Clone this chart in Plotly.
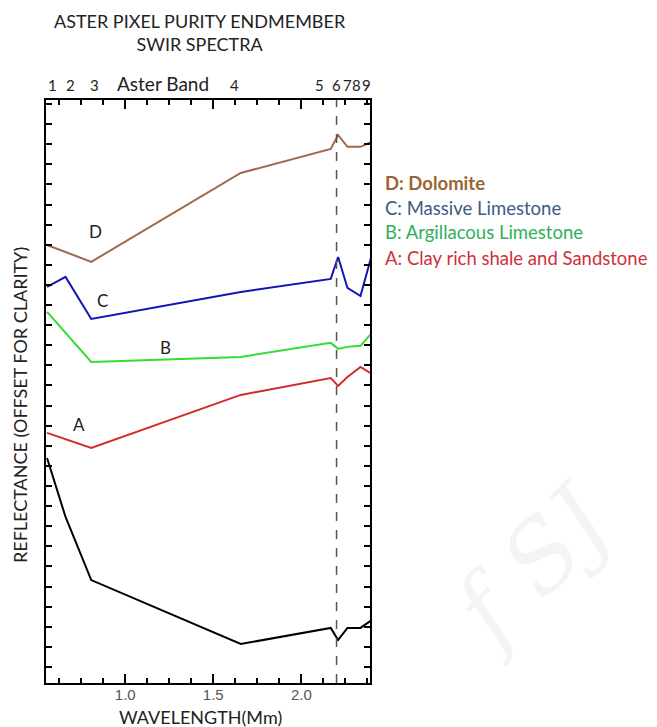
import plotly.graph_objects as go

# ASTER band centre wavelengths (um)
band_wavelength = [0.556, 0.661, 0.807, 1.656, 2.167, 2.209, 2.262, 2.336, 2.400]
band_labels = ["1", "2", "3", "4", "5", "6", "7", "8", "9"]
band_label_pos = [0.588, 0.689, 0.825, 1.621, 2.106, 2.200, 2.262, 2.312, 2.368]

# Reflectance (offset for clarity, arbitrary units)
dolomite = [21.79, 21.44, 20.95, 25.37, 26.57, 27.26, 26.67, 26.67, 26.92]
massive_limestone = [19.70, 20.20, 18.11, 19.45, 20.10, 21.19, 19.65, 19.25, 21.29]
argillacous_limestone = [18.46, 17.41, 15.97, 16.22, 16.92, 16.62, 16.72, 16.77, 17.41]
clay_shale_sandstone = [12.44, 12.14, 11.69, 14.33, 15.17, 14.78, 15.22, 15.72, 15.37]
black_spectrum = [11.19, 8.26, 5.12, 1.94, 2.74, 2.14, 2.74, 2.74, 3.13]

series_names = ["D: Dolomite", "C: Massive Limestone", "B: Argillacous Limestone",
                "A: Clay rich shale and Sandstone", ""]
series_letters = ["D", "C", "B", "A"]
letter_x = [0.83, 0.87, 1.226, 0.74]
letter_y = [22.44, 19.05, 16.67, 12.84]

line_colors = ["#a0694a", "#1414b4", "#33dd33", "#d42a2a", "#000000"]
legend_colors = ["#9a6532", "#3d5a85", "#2fb05a", "#d0303a"]

FONT = "Lato"
TXT = "#222222"

fig = go.Figure()
all_series = [dolomite, massive_limestone, argillacous_limestone, clay_shale_sandstone, black_spectrum]
for vals, col in zip(all_series, line_colors):
    fig.add_trace(go.Scatter(x=band_wavelength, y=vals, mode="lines",
                             line=dict(color=col, width=2), showlegend=False,
                             hoverinfo="skip"))

# dashed line at band 6 (2.2 um)
fig.add_shape(type="line", xref="x", yref="paper", x0=2.2, x1=2.2, y0=0, y1=1,
              line=dict(color="#555555", width=1.5, dash="dash"))

ann = []
# faint watermark
ann.append(dict(text="<i>f SJ</i>", xref="paper", yref="paper", x=1.5, y=0.2, showarrow=False,
                textangle=-45, xanchor="center", yanchor="middle",
                font=dict(family="DejaVu Serif", size=96, color="rgba(0,0,0,0.045)")))
# title
ann.append(dict(text="ASTER PIXEL PURITY ENDMEMBER<br>SWIR SPECTRA", xref="paper", yref="paper",
                x=0.475, y=1.116, xanchor="center", yanchor="middle", showarrow=False,
                font=dict(family=FONT, size=18, color=TXT)))
# top band labels
for lab, xp in zip(band_labels, band_label_pos):
    ann.append(dict(text=lab, xref="x", yref="paper", x=xp, y=1.026, showarrow=False,
                    xanchor="center", yanchor="middle", font=dict(family=FONT, size=15, color=TXT)))
ann.append(dict(text="Aster Band", xref="x", yref="paper", x=1.215, y=1.028, showarrow=False,
                xanchor="center", yanchor="middle", font=dict(family=FONT, size=19, color=TXT)))
# letters on curves
for t, xx, yy in zip(series_letters, letter_x, letter_y):
    ann.append(dict(text=t, xref="x", yref="y", x=xx, y=yy, showarrow=False,
                    xanchor="center", yanchor="middle", font=dict(family=FONT, size=17, color=TXT)))
# legend text
leg_y = [0.858, 0.815, 0.774, 0.729]
for i, (nm, col, yy) in enumerate(zip(series_names[:4], legend_colors, leg_y)):
    txt = "<b>" + nm + "</b>" if i == 0 else nm
    ann.append(dict(text=txt, xref="paper", yref="paper", x=1.04, y=yy, showarrow=False,
                    xanchor="left", yanchor="middle", font=dict(family=FONT, size=18.5, color=col)))
# axis titles
ann.append(dict(text="REFLECTANCE (OFFSET FOR CLARITY)", xref="paper", yref="paper",
                x=-0.080, y=0.477, textangle=-90, showarrow=False, xanchor="center", yanchor="middle",
                font=dict(family=FONT, size=18, color=TXT)))
ann.append(dict(text="WAVELENGTH(Mm)", xref="paper", yref="paper", x=0.478, y=-0.058,
                showarrow=False, xanchor="center", yanchor="middle",
                font=dict(family=FONT, size=18, color=TXT)))

fig.update_layout(
    width=649, height=719,
    margin=dict(l=38, r=287, t=92, b=44),
    paper_bgcolor="white", plot_bgcolor="white",
    annotations=ann,
    xaxis=dict(range=[0.55, 2.39], tickvals=[1.0, 1.5, 2.0], ticktext=["1.0", "1.5", "2.0"],
               ticks="inside", ticklen=9, tickwidth=2, tickcolor="black",
               showline=True, linewidth=2, linecolor="black", mirror="allticks",
               showgrid=False, zeroline=False, ticklabelstandoff=-3,
               tickfont=dict(family="Liberation Sans", size=15, color="#555555"),
               minor=dict(dtick=0.125, tick0=1.0, ticks="inside", ticklen=5, tickwidth=2,
                          tickcolor="black", showgrid=False)),
    yaxis=dict(range=[0, 29], tick0=0.8, dtick=2, ticks="inside", ticklen=6, tickwidth=2,
               tickcolor="black", showticklabels=False,
               showline=True, linewidth=2, linecolor="black", mirror="allticks",
               showgrid=False, zeroline=False,
               minor=dict(dtick=1, tick0=0.8, ticks="inside", ticklen=6, tickwidth=2,
                          tickcolor="black", showgrid=False)),
)

fig.write_html("out.html")
